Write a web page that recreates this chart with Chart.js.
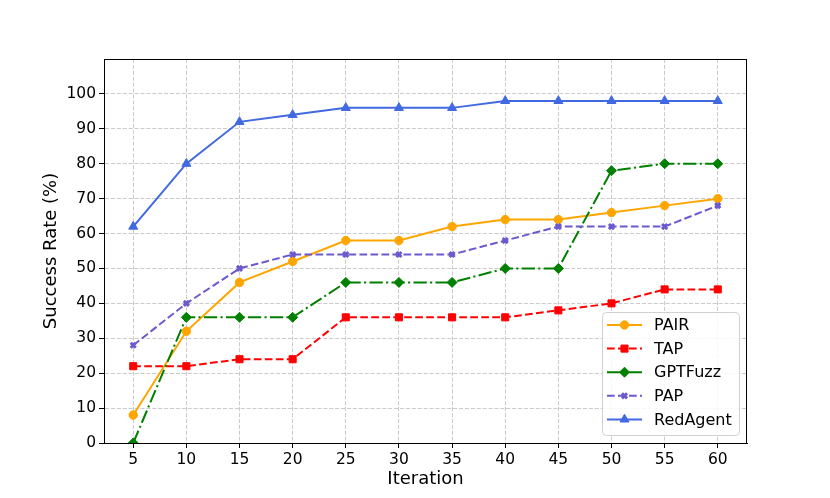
<!DOCTYPE html>
<html>
<head>
<meta charset="utf-8">
<script src="https://cdn.jsdelivr.net/npm/chart.js@4.4.1/dist/chart.umd.min.js"></script>
<style>
  html, body { margin: 0; padding: 0; background: #fff; }
  #wrap { width: 830px; height: 498px; }
</style>
</head>
<body>
<div id="wrap"><canvas id="successChart" width="830" height="498"></canvas></div>
<script>
const iterations = [5, 10, 15, 20, 25, 30, 35, 40, 45, 50, 55, 60];
const yTicks = [0, 10, 20, 30, 40, 50, 60, 70, 80, 90, 100];

const pair     = [8, 32, 46, 52, 58, 58, 62, 64, 64, 66, 68, 70];
const tap      = [22, 22, 24, 24, 36, 36, 36, 36, 38, 40, 44, 44];
const gptfuzz  = [0, 36, 36, 36, 46, 46, 46, 50, 50, 78, 80, 80];
const pap      = [28, 40, 50, 54, 54, 54, 54, 58, 62, 62, 62, 68];
const redagent = [62, 80, 92, 94, 96, 96, 96, 98, 98, 98, 98, 98];

const FONT = "'DejaVu Sans', sans-serif";

function points(values) {
  return values.map((v, i) => ({ x: iterations[i], y: v }));
}

function series(label, values, color, style, radius, dash, order) {
  return {
    label: label,
    data: points(values),
    borderColor: color,
    backgroundColor: color,
    borderWidth: 2,
    borderDash: dash,
    pointStyle: style,
    pointRadius: radius,
    pointHoverRadius: radius,
    pointBorderWidth: style === "crossRot" ? 3 : 1,
    pointBackgroundColor: color,
    pointBorderColor: color,
    tension: 0,
    fill: false,
    clip: 0,
    order: order,
  };
}

const datasets = [
  series("PAIR", pair, "#FFA500", "circle", 4.2, [], 5),
  series("TAP", tap, "#FF0000", "rect", 5, [7.7, 3.3], 4),
  series("GPTFuzz", gptfuzz, "#008000", "rectRot", 5, [13.3, 3.3, 2.1, 3.3], 3),
  series("PAP", pap, "#6A5ACD", "crossRot", 3.6, [7.7, 3.3], 2),
  series("RedAgent", redagent, "#4169E1", "triangle", 5.2, [], 1),
];

// frame (top/right spines) and the boxed legend inside the plot
const framePlugin = {
  id: "frame",
  afterDraw(chart) {
    const { ctx, chartArea: a } = chart;
    ctx.save();
    ctx.strokeStyle = "#000";
    ctx.lineWidth = 1;
    ctx.strokeRect(a.left + 0.5, a.top + 0.5, a.right - a.left - 1, a.bottom - a.top);

    // legend
    const bx = 602, by = 312, bw = 137, bh = 123, r = 4;
    ctx.fillStyle = "rgba(255,255,255,0.85)";
    ctx.strokeStyle = "#d0d0d0";
    ctx.beginPath();
    ctx.roundRect(bx + 0.5, by + 0.5, bw, bh, r);
    ctx.fill();
    ctx.stroke();

    ctx.font = "16px " + FONT;
    ctx.textBaseline = "middle";
    ctx.textAlign = "left";
    datasets.forEach((ds, i) => {
      const y = 325 + i * 23.6;
      ctx.strokeStyle = ds.borderColor;
      ctx.lineWidth = 2;
      ctx.setLineDash(ds.borderDash);
      ctx.beginPath();
      ctx.moveTo(607, y);
      ctx.lineTo(642, y);
      ctx.stroke();
      ctx.setLineDash([]);
      ctx.fillStyle = ds.backgroundColor;
      ctx.lineWidth = ds.pointBorderWidth;
      Chart.helpers.drawPoint(ctx, { pointStyle: ds.pointStyle, radius: ds.pointRadius, borderWidth: ds.pointBorderWidth }, 624.5, y);
      ctx.fillStyle = "#000";
      ctx.fillText(ds.label, 654, y + 1);
    });
    ctx.restore();
  },
};

const gridCommon = {
  color: "rgba(185,185,185,0.75)",
  lineWidth: 1,
  drawTicks: true,
  tickLength: 5,
  tickColor: "#000",
  tickWidth: 1,
  tickBorderDash: [1, 0],
};

new Chart(document.getElementById("successChart").getContext("2d"), {
  type: "line",
  data: { datasets: datasets },
  plugins: [framePlugin],
  options: {
    responsive: false,
    animation: false,
    events: [],
    layout: { padding: { left: 0, top: 59, right: 83, bottom: 0 } },
    plugins: {
      legend: { display: false },
      tooltip: { enabled: false },
      title: { display: false },
    },
    scales: {
      x: {
        type: "linear",
        min: 2.25,
        max: 62.75,
        afterBuildTicks: (s) => { s.ticks = iterations.map((v) => ({ value: v })); },
        afterFit: (s) => { s.height = 55; },
        grid: { ...gridCommon },
        border: { display: true, color: "#000", width: 1, dash: [4.1, 1.8] },
        ticks: { color: "#000", font: { family: FONT, size: 15.5 }, padding: 3, maxRotation: 0, autoSkip: false },
        title: { display: true, text: "Iteration", color: "#000", font: { family: FONT, size: 18 }, padding: { top: 0, bottom: 8 } },
      },
      y: {
        type: "linear",
        min: 0,
        max: 110,
        afterBuildTicks: (s) => { s.ticks = yTicks.map((v) => ({ value: v })); },
        afterFit: (s) => { s.width = 104; },
        grid: { ...gridCommon },
        border: { display: true, color: "#000", width: 1, dash: [4.1, 1.8] },
        ticks: { color: "#000", font: { family: FONT, size: 15.5 }, padding: 3, autoSkip: false },
        title: { display: true, text: "Success Rate (%)", color: "#000", font: { family: FONT, size: 18 }, padding: { top: 41, bottom: 0 } },
      },
    },
  },
});
</script>
</body>
</html>
